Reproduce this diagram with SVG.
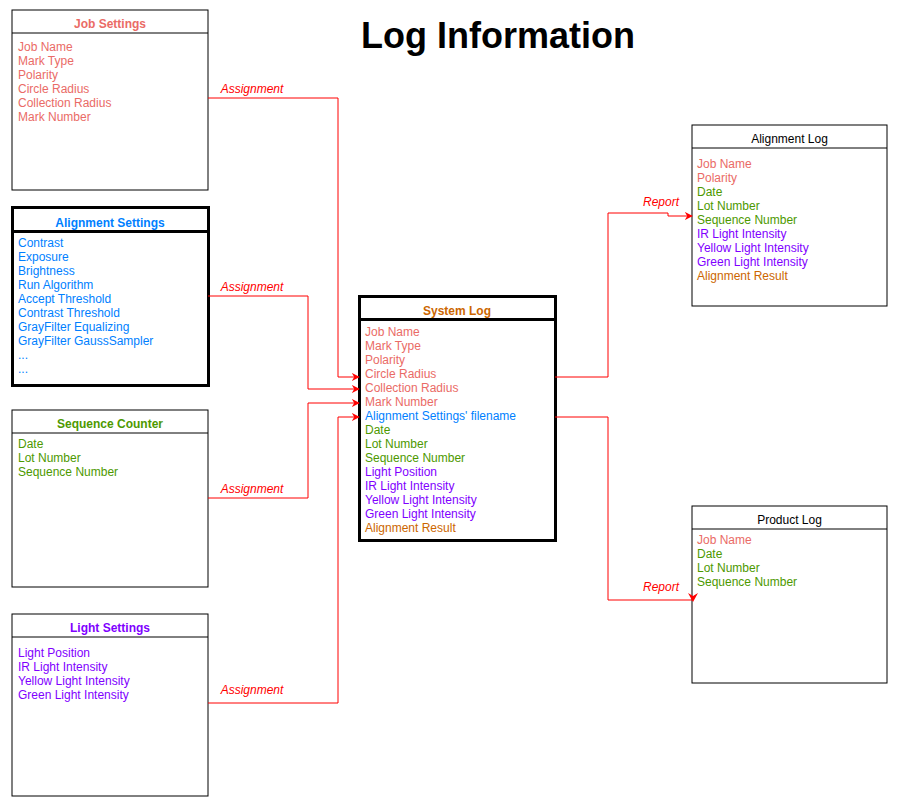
<svg xmlns="http://www.w3.org/2000/svg" width="898" height="810" viewBox="0 0 898 810">
<style>
text{font-family:"Liberation Sans",Arial,sans-serif;font-size:12px}
.box{fill:#fff;stroke:#000;stroke-width:1}
.thick{fill:#fff;stroke:#000;stroke-width:3}
.ttl{font-weight:bold;text-anchor:middle}
.r{fill:#EA6B66}.b{fill:#007FFF}.g{fill:#4D9900}.p{fill:#7F00FF}.o{fill:#CC6600}.k{fill:#000}
.edge{fill:none;stroke:#FF0000;stroke-width:1}
.lbl{fill:#FF0000;font-style:italic;text-anchor:middle}
</style>
<defs>
<marker id="ar" viewBox="0 0 10 10" refX="9" refY="5" markerWidth="8" markerHeight="8" markerUnits="userSpaceOnUse" orient="auto">
<path d="M0,0 L10,5 L0,10 L3,5 Z" fill="#FF0000"/>
</marker>
</defs>
<rect width="898" height="810" fill="#fff"/>
<text x="498" y="48" style="font-size:36px;font-weight:bold;text-anchor:middle">Log Information</text>

<g id="job-settings">
<rect class="box" x="12" y="10" width="196" height="180"/>
<line x1="12" y1="33" x2="208" y2="33" stroke="#000"/>
<text class="ttl r" x="110" y="28">Job Settings</text>
<text class="r" x="18" y="51">Job Name</text>
<text class="r" x="18" y="65">Mark Type</text>
<text class="r" x="18" y="79">Polarity</text>
<text class="r" x="18" y="93">Circle Radius</text>
<text class="r" x="18" y="107">Collection Radius</text>
<text class="r" x="18" y="121">Mark Number</text>
</g>

<g id="alignment-settings">
<rect class="thick" x="12.5" y="207.5" width="196" height="178"/>
<line x1="12.5" y1="231.5" x2="208.5" y2="231.5" stroke="#000" stroke-width="3"/>
<text class="ttl b" x="110" y="227">Alignment Settings</text>
<text class="b" x="18" y="247">Contrast</text>
<text class="b" x="18" y="261">Exposure</text>
<text class="b" x="18" y="275">Brightness</text>
<text class="b" x="18" y="289">Run Algorithm</text>
<text class="b" x="18" y="303">Accept Threshold</text>
<text class="b" x="18" y="317">Contrast Threshold</text>
<text class="b" x="18" y="331">GrayFilter Equalizing</text>
<text class="b" x="18" y="345">GrayFilter GaussSampler</text>
<text class="b" x="18" y="359">...</text>
<text class="b" x="18" y="373">...</text>
</g>

<g id="sequence-counter">
<rect class="box" x="12" y="410" width="196" height="177"/>
<line x1="12" y1="433" x2="208" y2="433" stroke="#000"/>
<text class="ttl g" x="110" y="428">Sequence Counter</text>
<text class="g" x="18" y="448">Date</text>
<text class="g" x="18" y="462">Lot Number</text>
<text class="g" x="18" y="476">Sequence Number</text>
</g>

<g id="light-settings">
<rect class="box" x="12" y="614" width="196" height="182"/>
<line x1="12" y1="637" x2="208" y2="637" stroke="#000"/>
<text class="ttl p" x="110" y="632">Light Settings</text>
<text class="p" x="18" y="657">Light Position</text>
<text class="p" x="18" y="671">IR Light Intensity</text>
<text class="p" x="18" y="685">Yellow Light Intensity</text>
<text class="p" x="18" y="699">Green Light Intensity</text>
</g>

<g id="system-log">
<rect class="thick" x="359.5" y="296.5" width="196" height="244"/>
<line x1="359.5" y1="319.5" x2="555.5" y2="319.5" stroke="#000" stroke-width="3"/>
<text class="ttl o" x="457" y="315">System Log</text>
<text class="r" x="365" y="336">Job Name</text>
<text class="r" x="365" y="350">Mark Type</text>
<text class="r" x="365" y="364">Polarity</text>
<text class="r" x="365" y="378">Circle Radius</text>
<text class="r" x="365" y="392">Collection Radius</text>
<text class="r" x="365" y="406">Mark Number</text>
<text class="b" x="365" y="420">Alignment Settings' filename</text>
<text class="g" x="365" y="434">Date</text>
<text class="g" x="365" y="448">Lot Number</text>
<text class="g" x="365" y="462">Sequence Number</text>
<text class="p" x="365" y="476">Light Position</text>
<text class="p" x="365" y="490">IR Light Intensity</text>
<text class="p" x="365" y="504">Yellow Light Intensity</text>
<text class="p" x="365" y="518">Green Light Intensity</text>
<text class="o" x="365" y="532">Alignment Result</text>
</g>

<g id="alignment-log">
<rect class="box" x="692" y="125" width="195" height="181"/>
<line x1="692" y1="148" x2="887" y2="148" stroke="#000"/>
<text class="k" x="789.5" y="143" text-anchor="middle">Alignment Log</text>
<text class="r" x="697" y="168">Job Name</text>
<text class="r" x="697" y="182">Polarity</text>
<text class="g" x="697" y="196">Date</text>
<text class="g" x="697" y="210">Lot Number</text>
<text class="g" x="697" y="224">Sequence Number</text>
<text class="p" x="697" y="238">IR Light Intensity</text>
<text class="p" x="697" y="252">Yellow Light Intensity</text>
<text class="p" x="697" y="266">Green Light Intensity</text>
<text class="o" x="697" y="280">Alignment Result</text>
</g>

<g id="product-log">
<rect class="box" x="692" y="506" width="195" height="177"/>
<line x1="692" y1="529" x2="887" y2="529" stroke="#000"/>
<text class="k" x="789.5" y="524" text-anchor="middle">Product Log</text>
<text class="r" x="697" y="544">Job Name</text>
<text class="g" x="697" y="558">Date</text>
<text class="g" x="697" y="572">Lot Number</text>
<text class="g" x="697" y="586">Sequence Number</text>
</g>

<g id="connectors">
<path class="edge" d="M208,98 H338 V377 H359" marker-end="url(#ar)"/>
<path class="edge" d="M208,296 H308 V389 H359" marker-end="url(#ar)"/>
<path class="edge" d="M208,498 H308 V403 H359" marker-end="url(#ar)"/>
<path class="edge" d="M208,703 H338 V417 H359" marker-end="url(#ar)"/>
<path class="edge" d="M555,377 H608 V213 H668 V216 H692" marker-end="url(#ar)"/>
<path class="edge" d="M555,417 H608 V600 H692"/>
<path d="M688,593 L693,602 L698,593 L693,596 Z" fill="#FF0000"/>
<text class="lbl" x="252" y="93">Assignment</text>
<text class="lbl" x="252" y="291">Assignment</text>
<text class="lbl" x="252" y="493">Assignment</text>
<text class="lbl" x="252" y="694">Assignment</text>
<text class="lbl" x="661" y="206">Report</text>
<text class="lbl" x="661" y="591">Report</text>
</g>
</svg>
